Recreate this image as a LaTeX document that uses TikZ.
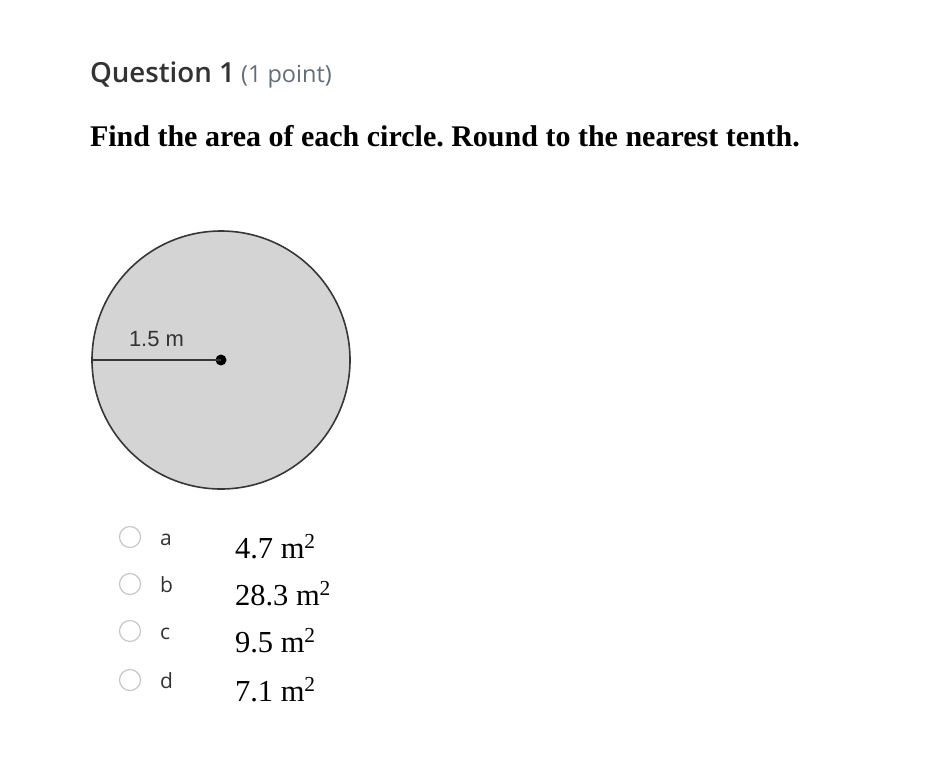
\documentclass[tikz,border=0pt]{standalone}
\usepackage{fontspec}
\setmainfont{Liberation Serif}
\newfontfamily\opensans{Open Sans}
\newfontfamily\opensanssb{Open Sans}[UprightFont={* Semibold}]
\newfontfamily\arialf{Liberation Sans}
\definecolor{qtext}{RGB}{51,51,51}
\definecolor{qgray}{RGB}{100,110,120}
\definecolor{cfill}{RGB}{212,212,212}
\definecolor{cline}{RGB}{55,55,55}
\definecolor{radio}{RGB}{200,200,200}
\frenchspacing
\begin{document}
\begin{tikzpicture}[x=1pt,y=-1pt,
  txt/.style={anchor=base west,inner sep=0pt,outer sep=0pt},
  radiobtn/.style={circle,draw=radio,line width=1.2pt,minimum size=21pt,inner sep=0pt,fill=white},
  letter/.style={txt,font=\opensans\fontsize{21}{24}\selectfont,text=qtext},
  answer/.style={txt,font=\fontsize{30.5}{34}\selectfont,text=black}]
\useasboundingbox[fill=white] (0,0) rectangle (950,780);
\node[txt,text=qtext] (q) at (90,82) {\opensanssb\fontsize{27.7}{32}\selectfont Question 1};
\node[txt,text=qgray] (pt) at (q.base east) {\opensans\fontsize{23.5}{28}\selectfont\ (1 point)};
\node[txt,font=\bfseries\fontsize{30}{34}\selectfont] (instr) at (90,146) {Find the area of each circle. Round to the nearest tenth.};
% circle
\node[circle,draw=cline,fill=cfill,line width=1.6pt,minimum size=258pt,inner sep=0pt] (circ) at (221,360) {};
\node[circle,fill=black,minimum size=11pt,inner sep=0pt] (ctr) at (221,360) {};
\draw[cline,line width=1.8pt] (circ.west) -- (ctr.center);
\node[txt,font=\arialf\fontsize{22}{25}\selectfont,text=qtext] (rl) at (129,346) {1.5 m};
% options
\foreach \i/\l/\v/\y in {1/a/4.7/537,2/b/28.3/584,3/c/9.5/631,4/d/7.1/680}{
  \node[radiobtn] (r\i) at (130,\y) {};
  \node[letter] (l\i) at (160,\y+8) {\l};
  \node[answer] (v\i) at (235,\y+21) {\v\ m\textsuperscript{2}};
}
\end{tikzpicture}
\end{document}
